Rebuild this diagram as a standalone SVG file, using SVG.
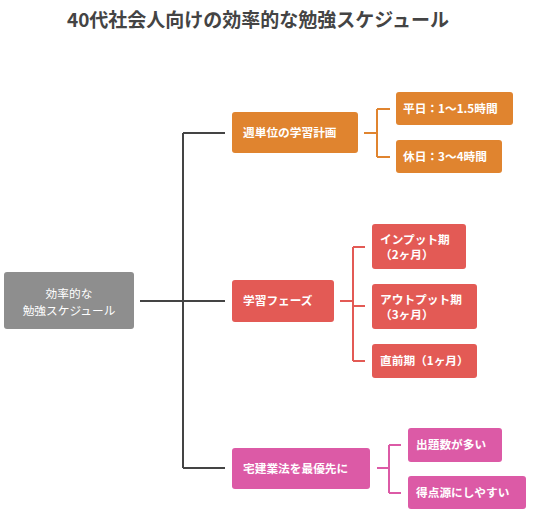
<svg xmlns="http://www.w3.org/2000/svg" width="547" height="515" viewBox="0 0 547 515">
<style>
text{font-family:"Noto Sans CJK JP","Noto Sans",sans-serif;}
.t{font-size:19px;font-weight:bold;fill:#444;}
.n{font-size:11.7px;font-weight:bold;fill:#fff;}
.r{font-size:11.7px;fill:#fff;}
.trunk{stroke:#444;stroke-width:2;fill:none;}
.bo{stroke:#e0842f;stroke-width:2;fill:none;}
.br{stroke:#e35a55;stroke-width:2;fill:none;}
.bp{stroke:#dc5aa6;stroke-width:2;fill:none;}
.o{fill:#e0842f;}
.rd{fill:#e35a55;}
.p{fill:#dc5aa6;}
</style>
<rect width="547" height="515" fill="#fff"/>
<text class="t" x="258" y="27" text-anchor="middle">40代社会人向けの効率的な勉強スケジュール</text>
<g id="connectors">
<path class="trunk" d="M140,301H225M183,133V468M183,133H225M183,468H225"/>
<path class="bo" d="M364,133H377M377,109V157M377,109H390M377,157H390"/>
<path class="br" d="M340,301H353M353,247V361M353,247H365M353,306H365M353,361H365"/>
<path class="bp" d="M377,468H389M389,445V493M389,445H401M389,493H401"/>
</g>
<g id="root">
<rect x="4" y="272" width="130" height="57" rx="3" fill="#8e8e8e"/>
<text class="r" x="69" y="298" text-anchor="middle">効率的な</text>
<text class="r" x="69" y="315" text-anchor="middle">勉強スケジュール</text>
</g>
<g id="n1">
<rect class="o" x="232" y="112" width="126" height="41" rx="3"/>
<text class="n" x="243" y="137">週単位の学習計画</text>
</g>
<g id="n1a">
<rect class="o" x="396" y="92" width="117" height="33" rx="3"/>
<text class="n" x="403" y="112.5">平日：1〜1.5時間</text>
</g>
<g id="n1b">
<rect class="o" x="396" y="140" width="106" height="33" rx="3"/>
<text class="n" x="403" y="160.5">休日：3〜4時間</text>
</g>
<g id="n2">
<rect class="rd" x="232" y="280" width="102" height="42" rx="3"/>
<text class="n" x="243" y="305">学習フェーズ</text>
</g>
<g id="n2a">
<rect class="rd" x="372" y="224" width="94" height="45" rx="3"/>
<text class="n" x="380" y="244">インプット期</text>
<text class="n" x="380" y="259">（2ヶ月）</text>
</g>
<g id="n2b">
<rect class="rd" x="372" y="284" width="105" height="45" rx="3"/>
<text class="n" x="380" y="304">アウトプット期</text>
<text class="n" x="380" y="319">（3ヶ月）</text>
</g>
<g id="n2c">
<rect class="rd" x="372" y="344" width="105" height="34" rx="3"/>
<text class="n" x="380" y="365">直前期（1ヶ月）</text>
</g>
<g id="n3">
<rect class="p" x="232" y="448" width="138" height="41" rx="3"/>
<text class="n" x="243" y="473">宅建業法を最優先に</text>
</g>
<g id="n3a">
<rect class="p" x="408" y="428" width="94" height="34" rx="3"/>
<text class="n" x="416" y="449">出題数が多い</text>
</g>
<g id="n3b">
<rect class="p" x="408" y="476" width="118" height="33" rx="3"/>
<text class="n" x="416" y="497">得点源にしやすい</text>
</g>
</svg>
